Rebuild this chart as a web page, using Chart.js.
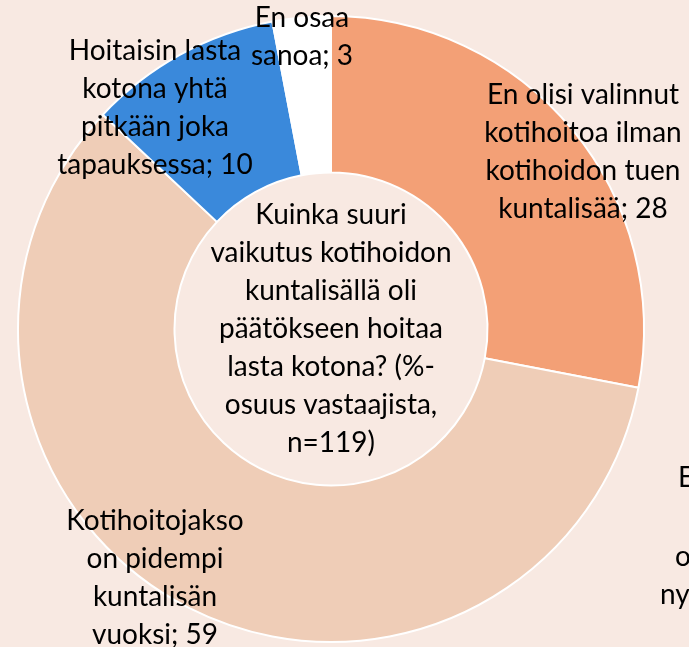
<!DOCTYPE html>
<html>
<head>
<meta charset="utf-8">
<script src="https://cdn.jsdelivr.net/npm/chart.js@4"></script>
<style>
  html, body { margin: 0; padding: 0; background: #f8e9e2; }
  #wrap { width: 689px; height: 647px; position: relative; overflow: hidden; }
</style>
</head>
<body>
<div id="wrap"><canvas id="chart" width="689" height="647"></canvas></div>
<script>
// ---- data ----
const categories = [
  "En olisi valinnut kotihoitoa ilman kotihoidon tuen kuntalisää",
  "Kotihoitojakso on pidempi kuntalisän vuoksi",
  "Hoitaisin lasta kotona yhtä pitkään joka tapauksessa",
  "En osaa sanoa",
];
const values = [28, 59, 10, 3];
const sliceColors = ["#f3a076", "#efcdb7", "#3a89db", "#ffffff"];

// label text lines, one list per slice
const labelLines = [
  ["En olisi valinnut", "kotihoitoa ilman", "kotihoidon tuen", "kuntalisää; 28"],
  ["Kotihoitojakso", "on pidempi", "kuntalisän", "vuoksi; 59"],
  ["Hoitaisin lasta", "kotona yhtä", "pitkään joka", "tapauksessa; 10"],
  ["En osaa", "sanoa; 3"],
];
const centerLines = [
  "Kuinka suuri", "vaikutus kotihoidon", "kuntalisällä oli",
  "päätökseen hoitaa", "lasta kotona? (%-", "osuus vastaajista,", "n=119)",
];
// label cut off by the right edge in the original
const clippedLines = ["Ei vaikutusta", "", "olisin kotona", "nytkin; 0"];

// ---- layout (text only) ----
const FONT = "28px Lato, 'Open Sans', sans-serif";
const LINE_H = 38;
const labelCenters = [
  [583, 152], [155, 578], [155, 108], [302, 37],
];
const clippedStart = [[678, 478], [700, 517], [675, 557], [660, 595]];

const labelPlugin = {
  id: "labels",
  afterDraw(chart) {
    const ctx = chart.ctx;
    const arc = chart.getDatasetMeta(0).data[0];
    ctx.save();
    ctx.font = FONT;
    ctx.fillStyle = "#000";
    ctx.textAlign = "center";
    ctx.textBaseline = "middle";

    labelLines.forEach((lines, i) => {
      const [cx, cy] = labelCenters[i];
      const top = cy - ((lines.length - 1) * LINE_H) / 2;
      lines.forEach((t, j) => ctx.fillText(t, cx, top + j * LINE_H));
    });

    // question in the hole
    const top = arc.y - ((centerLines.length - 1) * LINE_H) / 2;
    centerLines.forEach((t, j) => ctx.fillText(t, arc.x, top + j * LINE_H));

    ctx.textAlign = "left";
    clippedLines.forEach((t, j) => {
      if (t) ctx.fillText(t, clippedStart[j][0], clippedStart[j][1]);
    });
    ctx.restore();
  },
};

new Chart(document.getElementById("chart"), {
  type: "doughnut",
  data: {
    labels: categories,
    datasets: [{
      data: values,
      backgroundColor: sliceColors,
      borderColor: "#ffffff",
      borderWidth: 2,
    }],
  },
  options: {
    responsive: false,
    animation: false,
    cutout: "50%",
    layout: { padding: { left: 17, right: 44, top: 15, bottom: 4 } },
    plugins: {
      legend: { display: false },
      tooltip: { enabled: false },
    },
  },
  plugins: [labelPlugin],
});
</script>
</body>
</html>
